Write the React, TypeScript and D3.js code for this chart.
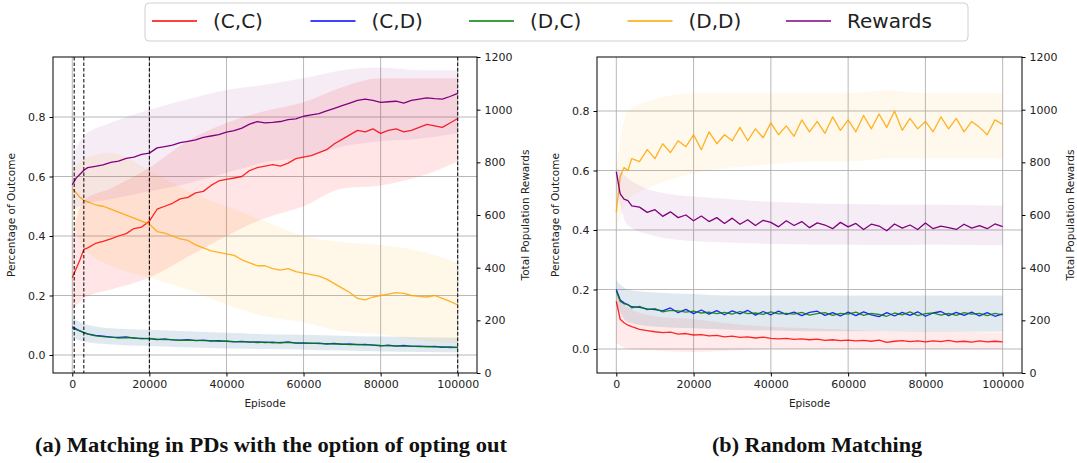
import { useEffect, useRef } from 'react';
import * as d3 from 'd3';

const EPISODES = [0, 1000, 2000, 3000, 4000, 6000, 8000, 10000, 12000, 14000, 16000, 18000, 20000, 22000, 24000, 26000, 28000, 30000, 32000, 34000, 36000, 38000, 40000, 42000, 44000, 46000, 48000, 50000, 52000, 54000, 56000, 58000, 60000, 62000, 64000, 66000, 68000, 70000, 72000, 74000, 76000, 78000, 80000, 82000, 84000, 86000, 88000, 90000, 92000, 94000, 96000, 98000, 100000];
const BAND_EPISODES = [0, 3000, 10000, 20000, 30000, 40000, 50000, 60000, 70000, 80000, 90000, 100000];

const X_TICKS = [0, 20000, 40000, 60000, 80000, 100000];
const Y_TICKS = [0, 0.2, 0.4, 0.6, 0.8];
const R_TICKS = [0, 200, 400, 600, 800, 1000, 1200];
const PHASE_LINES = [500, 3000, 20000, 100000];

const LEGEND = ['(C,C)', '(C,D)', '(D,C)', '(D,D)', 'Rewards'];
const COLORS = ['#ff0000', '#0000ff', '#008000', '#ffa500', '#800080'];

// (a) opting out
const A_CC = [0.26, 0.29, 0.32, 0.355, 0.36, 0.375, 0.382, 0.39, 0.40, 0.408, 0.425, 0.43, 0.45, 0.49, 0.50, 0.51, 0.525, 0.53, 0.545, 0.55, 0.57, 0.585, 0.59, 0.595, 0.60, 0.62, 0.63, 0.635, 0.64, 0.635, 0.645, 0.66, 0.665, 0.67, 0.68, 0.69, 0.71, 0.725, 0.74, 0.755, 0.75, 0.76, 0.745, 0.755, 0.76, 0.75, 0.755, 0.765, 0.775, 0.77, 0.765, 0.78, 0.795];
const A_CD = [0.095, 0.088, 0.08, 0.076, 0.071, 0.066, 0.063, 0.06, 0.059, 0.061, 0.057, 0.056, 0.055, 0.052, 0.054, 0.051, 0.05, 0.052, 0.048, 0.05, 0.047, 0.048, 0.046, 0.044, 0.046, 0.043, 0.044, 0.042, 0.043, 0.041, 0.044, 0.04, 0.041, 0.039, 0.04, 0.037, 0.039, 0.036, 0.037, 0.035, 0.036, 0.033, 0.031, 0.033, 0.03, 0.032, 0.029, 0.03, 0.028, 0.029, 0.026, 0.027, 0.025];
const A_DC = [0.09, 0.085, 0.082, 0.074, 0.07, 0.064, 0.062, 0.061, 0.057, 0.058, 0.058, 0.054, 0.056, 0.053, 0.052, 0.052, 0.049, 0.05, 0.049, 0.048, 0.048, 0.046, 0.047, 0.045, 0.044, 0.044, 0.042, 0.043, 0.041, 0.042, 0.042, 0.041, 0.039, 0.04, 0.038, 0.038, 0.037, 0.037, 0.035, 0.036, 0.034, 0.034, 0.032, 0.031, 0.031, 0.03, 0.03, 0.028, 0.029, 0.027, 0.027, 0.025, 0.026];
const A_DD = [0.56, 0.545, 0.53, 0.52, 0.515, 0.505, 0.5, 0.49, 0.48, 0.47, 0.46, 0.45, 0.44, 0.415, 0.41, 0.40, 0.39, 0.385, 0.37, 0.36, 0.35, 0.345, 0.34, 0.335, 0.32, 0.31, 0.30, 0.30, 0.29, 0.285, 0.29, 0.28, 0.275, 0.27, 0.265, 0.255, 0.24, 0.225, 0.21, 0.19, 0.185, 0.195, 0.2, 0.205, 0.21, 0.207, 0.2, 0.197, 0.195, 0.2, 0.19, 0.18, 0.168];
const A_RW = [715, 740, 755, 770, 780, 785, 790, 800, 805, 815, 820, 830, 835, 855, 860, 865, 875, 880, 885, 895, 900, 905, 915, 920, 930, 945, 955, 950, 952, 955, 962, 965, 975, 980, 985, 995, 1005, 1015, 1025, 1035, 1040, 1035, 1028, 1030, 1032, 1025, 1035, 1040, 1045, 1042, 1040, 1050, 1062];

const A_CC_LO = [0.15, 0.19, 0.22, 0.26, 0.33, 0.40, 0.46, 0.50, 0.56, 0.57, 0.60, 0.65];
const A_CC_HI = [0.40, 0.52, 0.56, 0.63, 0.72, 0.78, 0.82, 0.85, 0.90, 0.93, 0.93, 0.93];
const A_CD_LO = [0.06, 0.045, 0.035, 0.03, 0.025, 0.022, 0.02, 0.018, 0.015, 0.012, 0.01, 0.008];
const A_CD_HI = [0.125, 0.105, 0.09, 0.085, 0.08, 0.075, 0.07, 0.068, 0.065, 0.062, 0.06, 0.058];
const A_DD_LO = [0.46, 0.36, 0.30, 0.26, 0.22, 0.17, 0.13, 0.11, 0.08, 0.07, 0.05, 0.04];
const A_DD_HI = [0.62, 0.66, 0.68, 0.62, 0.55, 0.50, 0.45, 0.40, 0.38, 0.37, 0.35, 0.31];
const A_RW_LO = [620, 640, 660, 690, 720, 760, 800, 820, 860, 880, 890, 910];
const A_RW_HI = [820, 900, 950, 1000, 1040, 1075, 1095, 1120, 1150, 1160, 1150, 1150];

// (b) random matching
const B_CC = [0.16, 0.10, 0.088, 0.08, 0.075, 0.066, 0.062, 0.058, 0.055, 0.057, 0.05, 0.052, 0.047, 0.048, 0.044, 0.046, 0.041, 0.043, 0.039, 0.041, 0.037, 0.04, 0.036, 0.034, 0.036, 0.032, 0.034, 0.031, 0.033, 0.029, 0.031, 0.028, 0.03, 0.027, 0.029, 0.026, 0.03, 0.022, 0.026, 0.028, 0.025, 0.027, 0.024, 0.027, 0.025, 0.029, 0.024, 0.026, 0.023, 0.027, 0.024, 0.026, 0.024];
const B_CD = [0.20, 0.165, 0.155, 0.148, 0.142, 0.14, 0.135, 0.132, 0.128, 0.138, 0.122, 0.133, 0.119, 0.131, 0.117, 0.129, 0.115, 0.128, 0.118, 0.13, 0.114, 0.126, 0.115, 0.127, 0.116, 0.124, 0.112, 0.123, 0.127, 0.113, 0.122, 0.111, 0.124, 0.112, 0.125, 0.115, 0.109, 0.122, 0.111, 0.123, 0.113, 0.125, 0.11, 0.121, 0.126, 0.112, 0.123, 0.113, 0.124, 0.111, 0.122, 0.11, 0.118];
const B_DC = [0.195, 0.16, 0.152, 0.15, 0.138, 0.143, 0.132, 0.136, 0.125, 0.13, 0.128, 0.124, 0.127, 0.121, 0.124, 0.119, 0.123, 0.117, 0.126, 0.119, 0.121, 0.116, 0.125, 0.118, 0.12, 0.117, 0.123, 0.114, 0.119, 0.122, 0.113, 0.12, 0.117, 0.124, 0.113, 0.12, 0.116, 0.11, 0.121, 0.115, 0.125, 0.112, 0.119, 0.121, 0.114, 0.12, 0.113, 0.122, 0.117, 0.12, 0.112, 0.12, 0.115];
const B_DD = [0.46, 0.58, 0.61, 0.60, 0.64, 0.63, 0.67, 0.64, 0.69, 0.66, 0.70, 0.68, 0.72, 0.67, 0.73, 0.69, 0.72, 0.70, 0.745, 0.70, 0.74, 0.71, 0.76, 0.72, 0.75, 0.715, 0.77, 0.73, 0.765, 0.725, 0.78, 0.735, 0.77, 0.73, 0.785, 0.74, 0.79, 0.745, 0.80, 0.735, 0.775, 0.74, 0.765, 0.73, 0.78, 0.74, 0.775, 0.73, 0.765, 0.745, 0.72, 0.77, 0.755];
const B_RW = [765, 680, 660, 655, 635, 630, 610, 620, 595, 612, 590, 600, 578, 596, 575, 590, 568, 588, 565, 582, 560, 580, 572, 555, 578, 560, 575, 552, 570, 562, 548, 572, 555, 568, 545, 565, 558, 540, 566, 550, 562, 545, 570, 548, 558, 552, 545, 565, 550, 560, 548, 566, 556];

const B_CC_LO = [0.02, 0.0, -0.005, -0.01, -0.005, 0.0, 0.0, 0.0, 0.0, 0.0, 0.0, 0.0];
const B_CC_HI = [0.20, 0.14, 0.11, 0.10, 0.085, 0.075, 0.07, 0.065, 0.06, 0.06, 0.058, 0.055];
const B_CD_LO = [0.15, 0.09, 0.075, 0.07, 0.065, 0.062, 0.06, 0.06, 0.06, 0.058, 0.058, 0.058];
const B_CD_HI = [0.23, 0.20, 0.19, 0.185, 0.18, 0.18, 0.18, 0.18, 0.18, 0.18, 0.18, 0.18];
const B_DD_LO = [0.40, 0.50, 0.55, 0.59, 0.61, 0.62, 0.63, 0.63, 0.64, 0.64, 0.64, 0.64];
const B_DD_HI = [0.60, 0.80, 0.84, 0.86, 0.86, 0.86, 0.86, 0.86, 0.87, 0.86, 0.86, 0.86];
const B_RW_LO = [700, 560, 520, 500, 495, 490, 488, 487, 486, 487, 486, 485];
const B_RW_HI = [780, 740, 690, 670, 660, 650, 645, 642, 640, 640, 638, 635];

const FONT = 'DejaVu Sans, sans-serif';

function drawPanel(svg, p) {
  const x = d3.scaleLinear().domain([-5000, 105000]).range([p.left, p.right]);
  const y = d3.scaleLinear().domain(p.yDomain).range([p.bottom, p.top]);
  const yR = d3.scaleLinear().domain([0, 1200]).range([p.bottom, p.top]);
  const g = svg.append('g');

  const clipId = 'clip-' + p.id;
  g.append('clipPath').attr('id', clipId)
    .append('rect').attr('x', p.left).attr('y', p.top)
    .attr('width', p.right - p.left).attr('height', p.bottom - p.top);

  // grid
  g.selectAll('.vg').data(X_TICKS).enter().append('line')
    .attr('x1', (d) => x(d)).attr('x2', (d) => x(d))
    .attr('y1', p.top).attr('y2', p.bottom)
    .attr('stroke', '#b0b0b0').attr('stroke-width', 0.9);
  g.selectAll('.hg').data(Y_TICKS).enter().append('line')
    .attr('x1', p.left).attr('x2', p.right)
    .attr('y1', (d) => y(d)).attr('y2', (d) => y(d))
    .attr('stroke', '#b0b0b0').attr('stroke-width', 0.9);

  const plot = g.append('g').attr('clip-path', `url(#${clipId})`);

  const band = (scale) => d3.area()
    .x((d) => x(d[0])).y0((d) => scale(d[1])).y1((d) => scale(d[2]))
    .curve(d3.curveMonotoneX);
  const line = (scale) => d3.line()
    .x((d, i) => x(EPISODES[i])).y((d) => scale(d));

  // outcome bands, then outcome lines
  p.bands.forEach((b, k) => {
    plot.append('path')
      .datum(BAND_EPISODES.map((e, i) => [e, b[0][i], b[1][i]]))
      .attr('d', band(y))
      .attr('fill', COLORS[k]).attr('fill-opacity', b[2]);
  });
  p.series.forEach((s, k) => {
    plot.append('path').datum(s).attr('d', line(y))
      .attr('fill', 'none').attr('stroke', COLORS[k])
      .attr('stroke-opacity', 0.85).attr('stroke-width', 1.3)
      .attr('stroke-linejoin', 'round');
  });

  // rewards on the twin axis
  plot.append('path')
    .datum(BAND_EPISODES.map((e, i) => [e, p.rewardBand[0][i], p.rewardBand[1][i]]))
    .attr('d', band(yR))
    .attr('fill', COLORS[4]).attr('fill-opacity', 0.075);
  plot.append('path').datum(p.rewards).attr('d', line(yR))
    .attr('fill', 'none').attr('stroke', COLORS[4])
    .attr('stroke-width', 1.3).attr('stroke-linejoin', 'round');

  (p.dashed || []).forEach((e) => {
    g.append('line')
      .attr('x1', x(e)).attr('x2', x(e)).attr('y1', p.top).attr('y2', p.bottom)
      .attr('stroke', '#000').attr('stroke-width', 1).attr('stroke-dasharray', '3.5,2');
  });

  // spines
  g.append('rect').attr('x', p.left).attr('y', p.top)
    .attr('width', p.right - p.left).attr('height', p.bottom - p.top)
    .attr('fill', 'none').attr('stroke', '#000').attr('stroke-width', 1);

  const styleAxis = (a) => {
    a.select('.domain').remove();
    a.selectAll('line').attr('stroke', '#000');
    a.selectAll('text').attr('font-family', FONT).attr('font-size', 11).attr('fill', '#222');
  };

  g.append('g').attr('transform', `translate(0,${p.bottom})`)
    .call(d3.axisBottom(x).tickValues(X_TICKS).tickFormat(d3.format('d')).tickSize(3.5).tickPadding(4))
    .call(styleAxis);
  g.append('g').attr('transform', `translate(${p.left},0)`)
    .call(d3.axisLeft(y).tickValues(Y_TICKS).tickFormat(d3.format('.1f')).tickSize(3.5).tickPadding(4))
    .call(styleAxis);
  g.append('g').attr('transform', `translate(${p.right},0)`)
    .call(d3.axisRight(yR).tickValues(R_TICKS).tickFormat(d3.format('d')).tickSize(3.5).tickPadding(4))
    .call(styleAxis);

  const label = (txt, tx, ty, rot) => g.append('text')
    .attr('transform', `translate(${tx},${ty}) rotate(${rot})`)
    .attr('text-anchor', 'middle').attr('font-family', FONT)
    .attr('font-size', 10.5).attr('fill', '#222').text(txt);
  const midY = (p.top + p.bottom) / 2;
  label('Episode', (p.left + p.right) / 2, p.bottom + 34, 0);
  label('Percentage of Outcome', p.left - 38, midY, -90);
  label('Total Population Rewards', p.right + 52, midY, -90);

  svg.append('text').attr('x', p.captionX).attr('y', 452)
    .attr('text-anchor', 'middle').attr('font-family', 'Liberation Serif, serif')
    .attr('font-weight', 'bold').attr('font-size', 21).attr('fill', '#111')
    .attr('textLength', p.captionW).attr('lengthAdjust', 'spacingAndGlyphs')
    .text(p.caption);
}

export default function App() {
  const svgRef = useRef(null);

  useEffect(() => {
    const svg = d3.select(svgRef.current);
    svg.selectAll('*').remove();

    drawPanel(svg, {
      id: 'a', left: 53, right: 477, top: 57, bottom: 373,
      yDomain: [-0.0605, 1.0017],
      series: [A_CC, A_CD, A_DC, A_DD],
      bands: [[A_CC_LO, A_CC_HI, 0.1], [A_CD_LO, A_CD_HI, 0.06], [A_CD_LO, A_CD_HI, 0.06], [A_DD_LO, A_DD_HI, 0.09]],
      rewards: A_RW, rewardBand: [A_RW_LO, A_RW_HI],
      dashed: PHASE_LINES,
      caption: '(a) Matching in PDs with the option of opting out', captionX: 271, captionW: 472,
    });
    drawPanel(svg, {
      id: 'b', left: 597, right: 1022, top: 57, bottom: 373,
      yDomain: [-0.0807, 0.9815],
      series: [B_CC, B_CD, B_DC, B_DD],
      bands: [[B_CC_LO, B_CC_HI, 0.08], [B_CD_LO, B_CD_HI, 0.06], [B_CD_LO, B_CD_HI, 0.06], [B_DD_LO, B_DD_HI, 0.07]],
      rewards: B_RW, rewardBand: [B_RW_LO, B_RW_HI],
      caption: '(b) Random Matching', captionX: 817, captionW: 210,
    });

    // legend
    const lg = svg.append('g');
    lg.append('rect').attr('x', 145).attr('y', 3).attr('width', 823).attr('height', 38)
      .attr('rx', 4).attr('fill', '#fff').attr('stroke', '#d0d0d0');
    LEGEND.forEach((name, i) => {
      const lx = 152 + i * 158.5;
      lg.append('line').attr('x1', lx).attr('x2', lx + 45).attr('y1', 21).attr('y2', 21)
        .attr('stroke', COLORS[i]).attr('stroke-width', 1.6);
      lg.append('text').attr('x', lx + 61).attr('y', 28)
        .attr('font-family', FONT).attr('font-size', 20).attr('fill', '#222').text(name);
    });
  }, []);

  return (
    <svg ref={svgRef} width={1077} height={463}
      style={{ position: 'absolute', left: 0, top: 0, background: '#fff' }} />
  );
}
